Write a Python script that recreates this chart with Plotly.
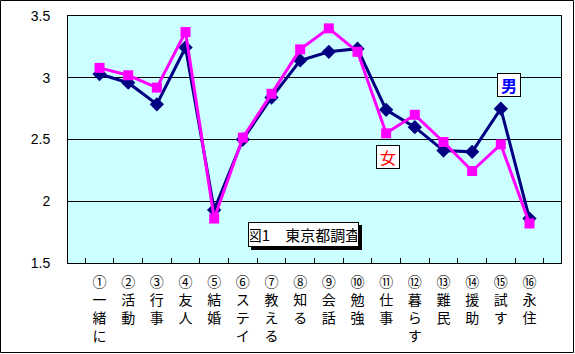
import plotly.graph_objects as go

categories = [
    "①<br>一<br>緒<br>に", "②<br>活<br>動", "③<br>行<br>事", "④<br>友<br>人",
    "⑤<br>結<br>婚", "⑥<br>ス<br>テ<br>イ", "⑦<br>教<br>え<br>る", "⑧<br>知<br>る",
    "⑨<br>会<br>話", "⑩<br>勉<br>強", "⑪<br>仕<br>事", "⑫<br>暮<br>ら<br>す",
    "⑬<br>難<br>民", "⑭<br>援<br>助", "⑮<br>試<br>す", "⑯<br>永<br>住",
]
male = [3.03, 2.96, 2.785, 3.245, 1.93, 2.50, 2.84, 3.14, 3.21, 3.235, 2.74, 2.60, 2.41, 2.40, 2.75, 1.86]
female = [3.08, 3.02, 2.92, 3.37, 1.86, 2.515, 2.87, 3.23, 3.40, 3.21, 2.55, 2.70, 2.48, 2.245, 2.46, 1.82]
y_ticks = [1.5, 2, 2.5, 3, 3.5]

JP = "Noto Sans CJK JP, sans-serif"

fig = go.Figure()
fig.add_trace(go.Scatter(
    x=categories, y=male, mode="lines+markers", name="男",
    line=dict(color="#000080", width=3),
    marker=dict(symbol="diamond", size=11, color="#000080"),
))
fig.add_trace(go.Scatter(
    x=categories, y=female, mode="lines+markers", name="女",
    line=dict(color="#FF00FF", width=3),
    marker=dict(symbol="square", size=10, color="#FF00FF"),
))

W, H = 575, 354
L, R, T, B = 68, 14, 16, 91
pw, ph = W - L - R, H - T - B

def px_x(p):
    return (p - L) / pw

def px_y(p):
    return (H - B - p) / ph

fig.update_layout(
    width=W, height=H,
    margin=dict(l=L, r=R, t=T, b=B, autoexpand=False),
    paper_bgcolor="white",
    plot_bgcolor="#CCFFFF",
    showlegend=False,
    font=dict(family=JP, color="black", size=14),
    xaxis=dict(
        type="category", showline=True, linecolor="black", linewidth=1,
        mirror=True, ticks="inside", tickson="boundaries", ticklen=5,
        tickcolor="black", showgrid=False, tickangle=0, automargin=False,
        tickfont=dict(family=JP, size=14, color="black"),
        ticklabelstandoff=6,
    ),
    yaxis=dict(
        range=[1.5, 3.5], tickvals=y_ticks, ticktext=["1.5", "2", "2.5", "3", "3.5"],
        showline=True, linecolor="black", linewidth=1, mirror=True,
        showgrid=True, gridcolor="black", gridwidth=1, zeroline=False,
        ticks="", automargin=False,
        tickfont=dict(family="Liberation Sans, Arial", size=14, color="black"),
        ticklabelstandoff=14,
    ),
    shapes=[
        dict(
            type="rect", xref="paper", yref="paper",
            x0=px_x(0.5), x1=px_x(W - 1.5), y0=px_y(H - 1.5), y1=px_y(0.5),
            line=dict(color="black", width=1), fillcolor="rgba(0,0,0,0)", layer="above",
        ),
        dict(
            type="rect", xref="paper", yref="paper",
            x0=px_x(251), x1=px_x(362), y0=px_y(250), y1=px_y(225),
            line=dict(color="black", width=0), fillcolor="black", layer="above",
        ),
    ],
)

common = dict(xref="paper", yref="paper", showarrow=False,
              xanchor="center", yanchor="middle",
              bgcolor="white", bordercolor="black", borderwidth=1, borderpad=1)

title_text = "図1　東京都調査"
fig.add_annotation(
    x=px_x(303.5), y=px_y(234.5), text=title_text, width=107, height=21,
    font=dict(family=JP, size=15, color="black"), **common,
)
fig.add_annotation(
    x=px_x(509), y=px_y(84.5), text="<b>男</b>", width=20, height=20,
    font=dict(family=JP, size=16, color="#0000FF"), **common,
)
fig.add_annotation(
    x=px_x(387.5), y=px_y(157), text="女", width=20, height=20,
    font=dict(family=JP, size=16, color="#FF0000"), **common,
)

fig.write_html("out.html")
